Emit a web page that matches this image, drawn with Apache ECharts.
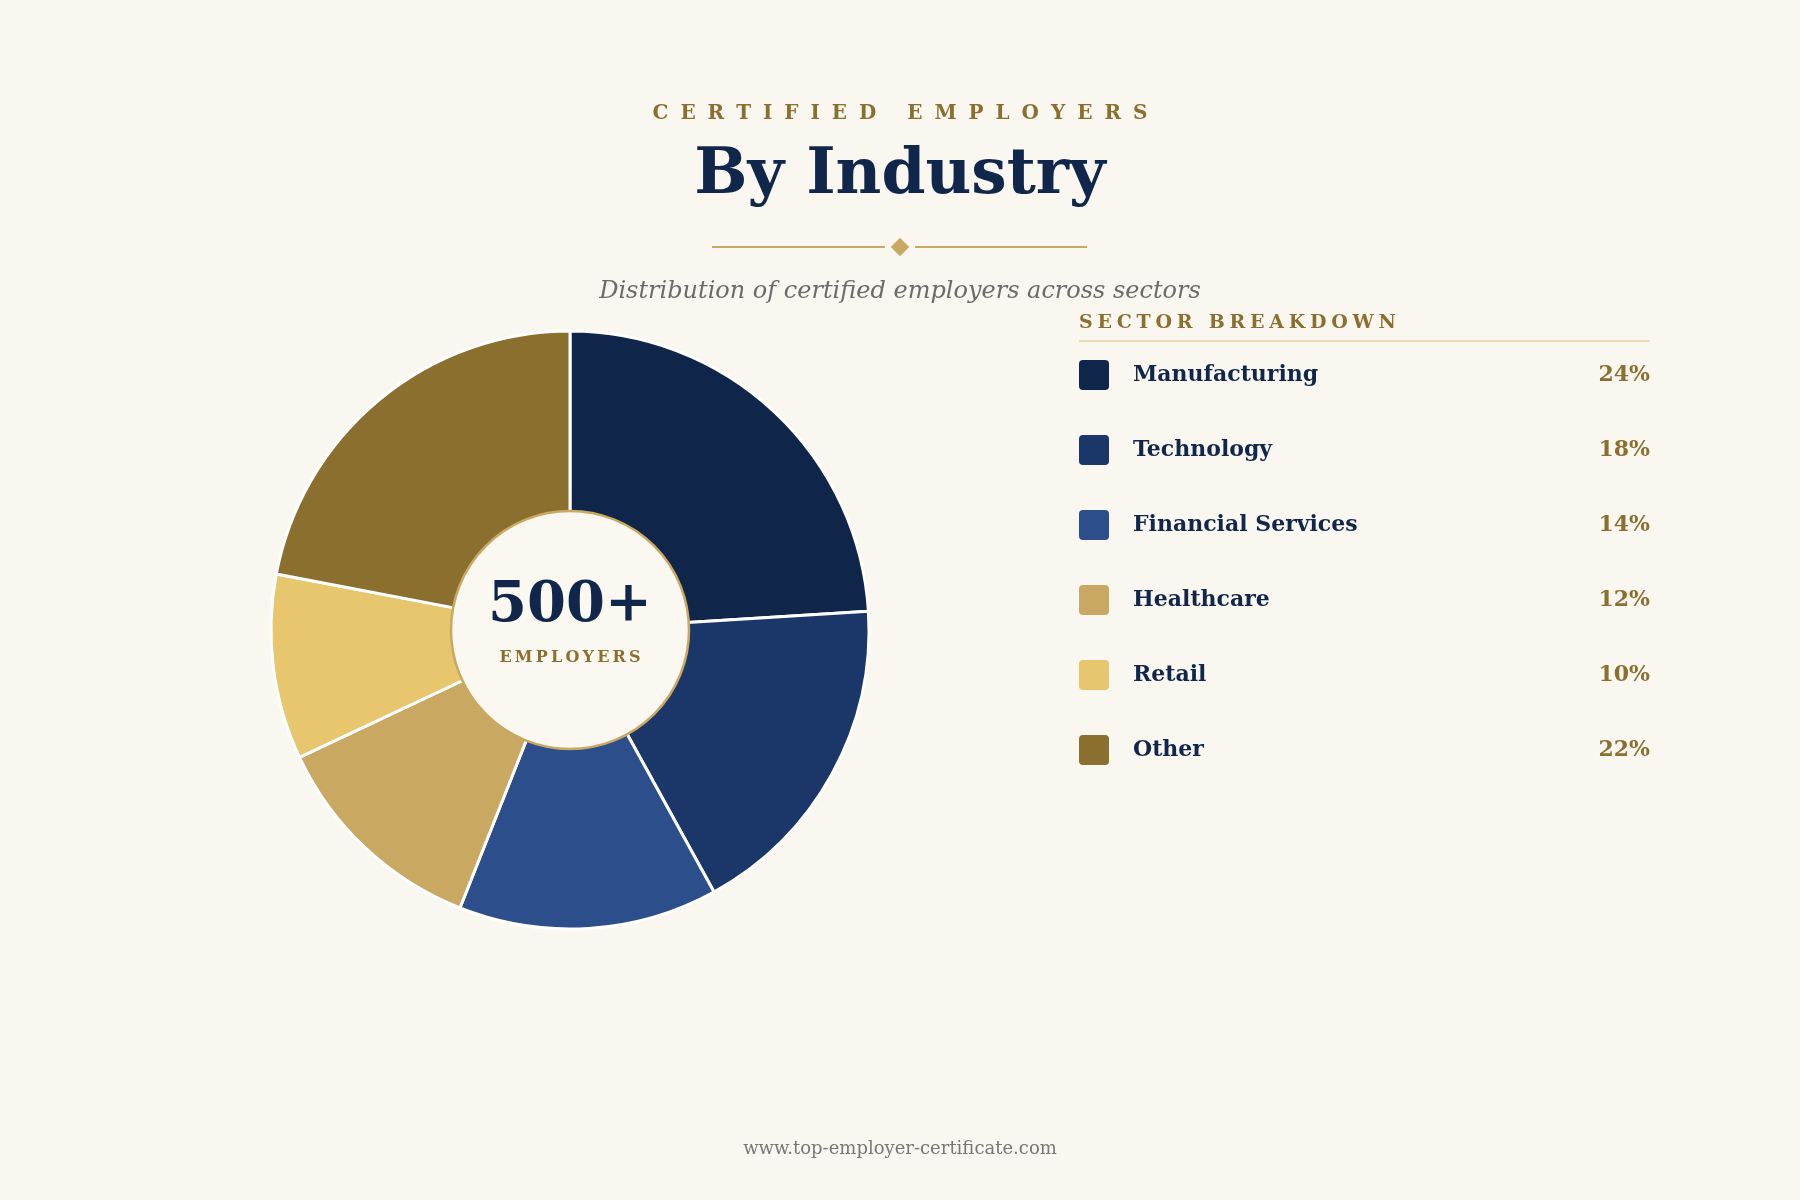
<!DOCTYPE html>
<html>
<head>
<meta charset="utf-8">
<script src="https://cdn.jsdelivr.net/npm/echarts@6/dist/echarts.min.js"></script>
<style>
  html, body { margin: 0; padding: 0; background: #faf7f0; }
  #main { width: 1800px; height: 1200px; }
</style>
</head>
<body>
<div id="main"></div>
<script>
// sector data
const sectors = ['Manufacturing', 'Technology', 'Financial Services', 'Healthcare', 'Retail', 'Other'];
const shares = [24, 18, 14, 12, 10, 22];
const sectorColors = ['#10254a', '#1b3769', '#2c4f8b', '#c9a862', '#e8c66e', '#8b6f2f'];

const navy = '#10264a';
const gold = '#8b6f2f';
const lightGold = '#c9a862';
const bg = '#faf7f0';
const serif = '"DejaVu Serif", serif';

// canvas text has no letter-spacing, so space the letters out
const spaced = (s, gap) => s.split(' ').map(w => w.split('').join(gap)).join(gap + ' ' + gap);
const QUARTER = '\u2005', THIN = '\u2009';

const cx = 570, cy = 630;

const chart = echarts.init(document.getElementById('main'));

const option = {
  backgroundColor: bg,
  animation: false,
  legend: {
    orient: 'vertical',
    left: 1079,
    top: 360,
    padding: 0,
    itemWidth: 30,
    itemHeight: 30,
    itemGap: 45,
    selectedMode: false,
    icon: 'path://M4,0H26A4,4 0 0 1 30,4V26A4,4 0 0 1 26,30H4A4,4 0 0 1 0,26V4A4,4 0 0 1 4,0Z',
    itemStyle: { borderWidth: 0 },
    data: sectors,
    formatter: name => '{n|' + name + '}{p|' + shares[sectors.indexOf(name)] + '%}',
    textStyle: {
      padding: [0, 0, 0, 19],
      rich: {
        n: { width: 440, align: 'left', fontFamily: serif, fontSize: 22, fontWeight: 'bold', color: navy, lineHeight: 30 },
        p: { width: 77, align: 'right', fontFamily: serif, fontSize: 22, fontWeight: 'bold', color: gold, lineHeight: 30 }
      }
    }
  },
  series: [{
    type: 'pie',
    center: [cx, cy],
    radius: [118, 299],
    startAngle: 90,
    clockwise: true,
    label: { show: false },
    labelLine: { show: false },
    emphasis: { disabled: true },
    itemStyle: { borderColor: '#ffffff', borderWidth: 3 },
    data: sectors.map((s, i) => ({ name: s, value: shares[i], itemStyle: { color: sectorColors[i] } }))
  }],
  graphic: [
    {
      type: 'text', x: 900, y: 114,
      style: { text: spaced('CERTIFIED EMPLOYERS', ' ' + QUARTER), fontFamily: serif, fontSize: 20, fontWeight: 'bold', fill: gold, align: 'center', verticalAlign: 'middle' }
    },
    {
      type: 'text', x: 900, y: 177,
      style: { text: 'By Industry', fontFamily: serif, fontSize: 63, fontWeight: 'bold', fill: navy, align: 'center', verticalAlign: 'middle' }
    },
    { type: 'line', shape: { x1: 712, y1: 247, x2: 885, y2: 247 }, style: { stroke: lightGold, lineWidth: 2 } },
    { type: 'line', shape: { x1: 915, y1: 247, x2: 1087, y2: 247 }, style: { stroke: lightGold, lineWidth: 2 } },
    { type: 'rect', x: 900, y: 247, rotation: Math.PI / 4, shape: { x: -6.5, y: -6.5, width: 13, height: 13 }, style: { fill: lightGold } },
    {
      type: 'text', x: 900, y: 292,
      style: { text: 'Distribution of certified employers across sectors', fontFamily: serif, fontSize: 24, fontStyle: 'italic', fill: '#6b6b6b', align: 'center', verticalAlign: 'middle' }
    },
    {
      type: 'text', x: 1079, y: 323,
      style: { text: spaced('SECTOR BREAKDOWN', QUARTER), fontFamily: serif, fontSize: 19, fontWeight: 'bold', fill: gold, align: 'left', verticalAlign: 'middle' }
    },
    { type: 'line', shape: { x1: 1079, y1: 341, x2: 1650, y2: 341 }, style: { stroke: '#e9dcb6', lineWidth: 2 } },
    {
      type: 'circle', z: 10, shape: { cx: cx, cy: cy, r: 119 },
      style: { fill: '#fbf8f1', stroke: lightGold, lineWidth: 2.5 }
    },
    {
      type: 'text', z: 11, x: cx, y: 606,
      style: { text: '500+', fontFamily: serif, fontSize: 56, fontWeight: 'bold', fill: navy, align: 'center', verticalAlign: 'middle' }
    },
    {
      type: 'text', z: 11, x: cx, y: 658,
      style: { text: spaced('EMPLOYERS', THIN), fontFamily: serif, fontSize: 16, fontWeight: 'bold', fill: gold, align: 'center', verticalAlign: 'middle' }
    },
    {
      type: 'text', x: 900, y: 1149,
      style: { text: 'www.top-employer-certificate.com', fontFamily: serif, fontSize: 18, fill: '#777777', align: 'center', verticalAlign: 'middle' }
    }
  ]
};

chart.setOption(option);
</script>
</body>
</html>
